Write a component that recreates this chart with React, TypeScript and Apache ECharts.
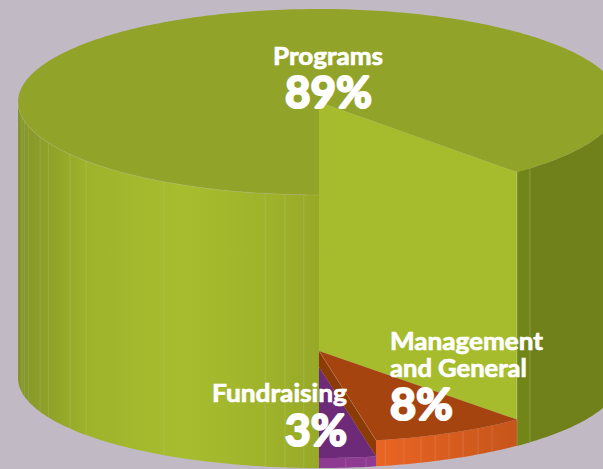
import React, { useEffect, useRef } from "react";
import * as echarts from "echarts";

const categories = ["Fundraising", "Management and General", "Programs"];
const shareValues = [3, 8, 89];
const percentLabels = ["3%", "8%", "89%"];

const FONT = 'Lato, "Open Sans", sans-serif';
const CX = 319;
const RX = 301;
const TOP = { y: 102, ry: 93 };
const BOTTOM = { y: 378, ry: 90 };
const MID_PLANE = { y: 351, ry: 91 };
const LOW_PLANE = { y: 367, ry: 91 };

// Seam angles, degrees measured from the front of the cylinder
const leftSeams = [2.9, 6.5, 10.3, 31, 50.7, 55.8, 64, 67.9, 75, 78, 80.6];
const orangeSeams = [12.7, 16.4, 19.8, 22.7, 25.6, 28.6, 31.9, 35.1];
const purpleSeams = [5.1, 9];

const BG = "#c1bac4";

const rad = (d: number) => (d * Math.PI) / 180;
// the picture's perspective opens the front of the cylinder slightly
const warp = (d: number) => d + 0.00096 * d * d;

const pt = (deg: number, e: { y: number; ry: number }): [number, number] => [
  CX + RX * Math.sin(rad(deg)),
  e.y + e.ry * Math.cos(rad(deg)),
];
const arc = (a: number, b: number, e: { y: number; ry: number }) => {
  const n = Math.max(2, Math.ceil(Math.abs(b - a) / 1));
  const out: [number, number][] = [];
  for (let i = 0; i <= n; i++) out.push(pt(a + ((b - a) * i) / n, e));
  return out;
};
const poly = (points: [number, number][], style: any) => ({
  type: "polygon",
  shape: { points },
  style,
  silent: true,
});
const wall = (a: number, b: number, top: any, bottom: any, fill: any) =>
  poly([...arc(a, b, top), ...arc(b, a, bottom)], { fill });
const seam = (deg: number, top: any, bottom: any, stroke: string) => {
  const p = pt(deg, top);
  const q = pt(deg, bottom);
  return {
    type: "line",
    shape: { x1: p[0], y1: p[1], x2: q[0], y2: q[1] },
    style: { stroke, lineWidth: 1 },
    silent: true,
  };
};

const total = shareValues.reduce((s, v) => s + v, 0);
const end1 = warp((shareValues[0] / total) * 360);
const end2 = warp(((shareValues[0] + shareValues[1]) / total) * 360);

const measureCtx = document.createElement("canvas").getContext("2d")!;
const textEl = (
  text: string,
  left: number,
  right: number,
  baseline: number,
  size: number,
  weightStroke: number
) => {
  measureCtx.font = `bold ${size}px ${FONT}`;
  const w = measureCtx.measureText(text).width;
  return {
    type: "text",
    x: left,
    y: baseline - 0.9 * size,
    scaleX: (right - left) / w,
    silent: true,
    style: {
      text,
      x: 0,
      y: 0,
      fill: "#ffffff",
      stroke: "#ffffff",
      lineWidth: weightStroke,
      fontFamily: FONT,
      fontWeight: "bold",
      fontSize: size,
      align: "left",
      verticalAlign: "top",
    },
  };
};

function renderSlice(params: any) {
  const i = params.dataIndex;
  if (i === 1) {
    return {
      type: "group",
      children: [
        wall(0, end1, LOW_PLANE, BOTTOM, "#8f3b92"),
        ...purpleSeams.map((d) => seam(d, LOW_PLANE, BOTTOM, "rgba(255,255,255,0.14)")),
        poly([[CX, LOW_PLANE.y], ...arc(0, end1, LOW_PLANE)], { fill: "#6d2a78" }),
      ],
    };
  }
  if (i === 2) {
    const a = pt(end1, MID_PLANE);
    const b = pt(end1, LOW_PLANE);
    return {
      type: "group",
      children: [
        poly([[CX, MID_PLANE.y], [CX, LOW_PLANE.y], b, a], { fill: "#8c3a06" }),
        wall(
          end1,
          end2,
          MID_PLANE,
          BOTTOM,
          new echarts.graphic.LinearGradient(376, 0, 517, 0, [
            { offset: 0, color: "#ea6523" },
            { offset: 1, color: "#c6551a" },
          ], true)
        ),
        ...orangeSeams.map((d) => seam(d, MID_PLANE, BOTTOM, "rgba(255,255,255,0.12)")),
        poly([[CX, MID_PLANE.y], ...arc(end1, end2, MID_PLANE)], { fill: "#a6440f" }),
        {
          type: "polyline",
          shape: { points: [[CX, MID_PLANE.y], a] },
          style: { stroke: "rgba(255,255,255,0.15)", lineWidth: 1, fill: "none" },
          silent: true,
        },
      ],
    };
  }
  const sx = (x: number) => (x - 18) / 301;
  const leftFill = new echarts.graphic.LinearGradient(18, 0, 319, 0, [
    { offset: 0, color: "#84952a" },
    { offset: sx(48), color: "#8fa128" },
    { offset: sx(86), color: "#9eb22b" },
    { offset: sx(130), color: "#a3b82d" },
    { offset: sx(185), color: "#a7bd2e" },
    { offset: sx(265), color: "#9fb32b" },
    { offset: 1, color: "#97a928" },
  ], true);
  return {
    type: "group",
    children: [
      wall(270, 360, TOP, BOTTOM, leftFill),
      ...leftSeams.map((d) => seam(360 - d, TOP, BOTTOM, "rgba(255,255,255,0.12)")),
      wall(end2, 90, TOP, BOTTOM, "#70801a"),
      wall(end2, 44.5, TOP, BOTTOM, "#728519"),
      seam(44.5, TOP, BOTTOM, "rgba(255,255,255,0.2)"),
      poly([[CX, TOP.y], ...arc(end2, 360, TOP)], { fill: "#92a329" }),
      poly([[CX, TOP.y], pt(end2, TOP), pt(end2, MID_PLANE), [CX, MID_PLANE.y]], { fill: "#a6bc2d" }),
      seam(end2, TOP, BOTTOM, "rgba(255,255,255,0.25)"),
      {
        type: "polyline",
        shape: { points: arc(270, 360, TOP) },
        style: { stroke: "rgba(255,255,255,0.1)", lineWidth: 1, fill: "none" },
        silent: true,
      },
    ],
  };
}

function renderLabel(params: any) {
  const i = params.dataIndex;
  const pct = percentLabels[i];
  if (i === 0) {
    return {
      type: "group",
      children: [
        textEl(categories[0], 212, 347, 402, 25, 0.7),
        textEl(pct, 285, 347, 446, 43, 2.2),
      ],
    };
  }
  if (i === 1) {
    const [l1, l2] = ["Management", "and General"];
    return {
      type: "group",
      children: [
        textEl(l1, 390, 543, 350, 25, 0.7),
        textEl(l2, 390, 527, 377, 25, 0.7),
        textEl(pct, 390, 453, 421, 43, 2.2),
      ],
    };
  }
  return {
    type: "group",
    children: [
      textEl(categories[2], 273, 383, 65, 25, 0.7),
      textEl(pct, 285, 372, 108, 43, 2.2),
    ],
  };
}

export default function App() {
  const ref = useRef<HTMLDivElement>(null);
  useEffect(() => {
    if (!ref.current) return;
    const chart = echarts.init(ref.current, undefined, { renderer: "svg" });
    const data = categories.map((name, i) => ({ name, value: shareValues[i] }));
    chart.setOption({
      animation: false,
      backgroundColor: BG,
      tooltip: { show: false },
      series: [
        {
          type: "custom",
          coordinateSystem: "none",
          renderItem: renderSlice,
          data: [data[2], data[0], data[1]],
          z: 1,
        },
        {
          type: "custom",
          coordinateSystem: "none",
          renderItem: renderLabel,
          data,
          z: 10,
        },
      ],
    });
    return () => chart.dispose();
  }, []);
  return (
    <div
      ref={ref}
      style={{ position: "absolute", left: 0, top: 0, width: 603, height: 469 }}
    />
  );
}
